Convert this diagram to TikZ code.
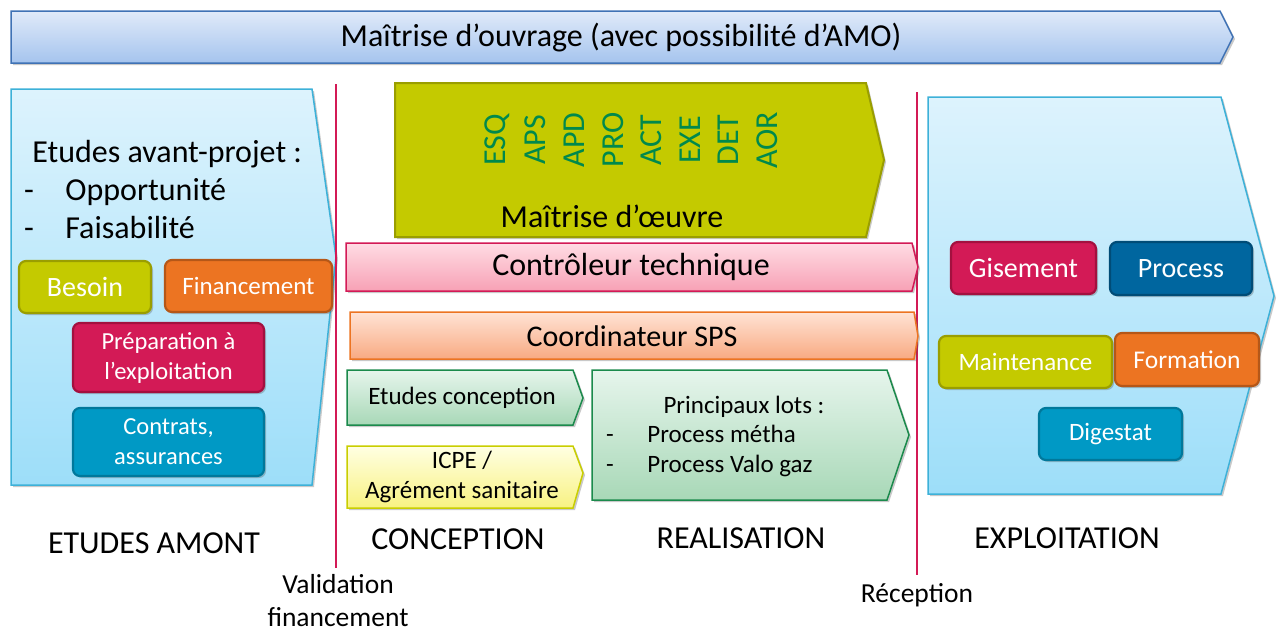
\documentclass[tikz,border=0pt]{standalone}
\usepackage{fontspec}
\setmainfont{Carlito}
\usetikzlibrary{shadows}
\definecolor{moabord}{HTML}{3F72B5}
\definecolor{moahaut}{HTML}{E0EAF9}
\definecolor{moabas}{HTML}{A5C4EE}
\definecolor{cyanbord}{HTML}{3DB1D8}
\definecolor{cyanhaut}{HTML}{DDF3FD}
\definecolor{cyanbas}{HTML}{9DDEF9}
\definecolor{vertolive}{HTML}{C4CA00}
\definecolor{vertolivefonce}{HTML}{9A9E00}
\definecolor{orangeb}{HTML}{EC7422}
\definecolor{orangefonce}{HTML}{B55718}
\definecolor{framboise}{HTML}{D31A56}
\definecolor{framboisefonce}{HTML}{A3103F}
\definecolor{bleucyan}{HTML}{0099C5}
\definecolor{bleucyanfonce}{HTML}{00789B}
\definecolor{bleunuit}{HTML}{00669F}
\definecolor{bleunuitfonce}{HTML}{004C77}
\definecolor{vertcode}{HTML}{00894C}
\definecolor{roseh}{HTML}{FFDCE4}
\definecolor{roseb}{HTML}{F7A1B5}
\definecolor{pecheh}{HTML}{FFE3D5}
\definecolor{pecheb}{HTML}{F8AA82}
\definecolor{vertbord}{HTML}{1B8A4C}
\definecolor{verth}{HTML}{E6F5EC}
\definecolor{vertb}{HTML}{A8D8B7}
\definecolor{jauneh}{HTML}{FFFFE2}
\definecolor{jauneb}{HTML}{F8F282}
\definecolor{jaunebord}{HTML}{C9CE00}
\tikzset{every picture/.style={line width=0.75pt}}

\begin{document}
\begin{tikzpicture}[x=1pt, y=-1pt, every node/.style={inner sep=0pt},
    ombre/.style={drop shadow={shadow xshift=2pt, shadow yshift=-2pt, opacity=0.3, fill=black!70}},
    fleche/.style={ombre, line width=1.5pt},
    boite/.style={ombre, rounded corners=7pt, line width=2.2pt, text=white, align=center},
    grand/.style={font=\fontsize{32}{36}\selectfont},
    moyen/.style={font=\fontsize{25}{30}\selectfont, align=center},
    phase/.style={font=\fontsize{32}{36}\selectfont},
    jalon/.style={font=\fontsize{27.5}{33}\selectfont}]
  \useasboundingbox (0,0) rectangle (1277,633);
  % maîtrise d'ouvrage
  \draw[fleche, draw=moabord, top color=moahaut, bottom color=moabas]
    (11,11) -- (1220,11) -- (1233,37) -- (1220,63) -- (11,63) -- cycle;
  \node[grand] (moa) at (621,38) {Maîtrise d’ouvrage (avec possibilité d’AMO)};

  % études amont
  \draw[fleche, draw=cyanbord, top color=cyanhaut, bottom color=cyanbas]
    (11,89) -- (312,89) -- (336,257) -- (312,485) -- (11,485) -- cycle;
  \node[grand, anchor=base west] (avp) at (32,162) {Etudes avant-projet :};
  \node[grand, anchor=base] (tiret1) at (29,200) {-};
  \node[grand, anchor=base west] (oppo) at (65,200) {Opportunité};
  \node[grand, anchor=base] (tiret2) at (29,238) {-};
  \node[grand, anchor=base west] (faisa) at (65,238) {Faisabilité};
  \node[boite, fill=vertolive, draw=vertolivefonce, minimum width=132pt, minimum height=52pt,
    font=\fontsize{28}{30}\selectfont] (besoin) at (85,287) {Besoin};
  \node[boite, fill=orangeb, draw=orangefonce, minimum width=167pt, minimum height=52pt,
    font=\fontsize{25}{30}\selectfont] (finan) at (248.5,286) {Financement};
  \node[boite, fill=framboise, draw=framboisefonce, minimum width=191pt, minimum height=69pt,
    font=\fontsize{24.5}{30}\selectfont] (prepa) at (168.5,357.5) {Préparation à\\l’exploitation};
  \node[boite, fill=bleucyan, draw=bleucyanfonce, minimum width=191pt, minimum height=68pt,
    font=\fontsize{24.5}{30}\selectfont] (contrats) at (168.5,442) {Contrats,\\assurances};

  % jalons
  \draw[framboise, line width=2.5pt] (336,84) -- (336,568);
  \draw[framboise, line width=2.5pt] (917,92) -- (917,575);

  % maîtrise d'oeuvre
  \draw[fleche, draw=vertolivefonce, fill=vertolive, line width=2pt]
    (395,83) -- (866,83) -- (884,160) -- (866,237) -- (395,237) -- cycle;
  \foreach \code [count=\i] in {ESQ,APS,APD,PRO,ACT,EXE,DET,AOR}
    \node[grand, text=vertcode, rotate=90] (code\i) at ({458.5+38.6*\i},140) {\code};
  \node[grand, anchor=base] (moe) at (612,227) {Maîtrise d’œuvre};

  % contrôle et coordination
  \draw[fleche, draw=framboise, top color=roseh, bottom color=roseb]
    (346,243) -- (912,243) -- (918,267) -- (912,291) -- (346,291) -- cycle;
  \node[grand] (ct) at (631,267) {Contrôleur technique};
  \draw[fleche, draw=orangeb, top color=pecheh, bottom color=pecheb]
    (350,312) -- (914,312) -- (918,336) -- (914,359) -- (350,359) -- cycle;
  \node[font=\fontsize{30}{34}\selectfont] (sps) at (632,336) {Coordinateur SPS};

  % conception
  \draw[fleche, draw=vertbord, top color=verth, bottom color=vertb]
    (347,370) -- (573,370) -- (583,398) -- (573,425) -- (347,425) -- cycle;
  \node[moyen] (etconc) at (462,398) {Etudes conception};
  \draw[fleche, draw=jaunebord, top color=jauneh, bottom color=jauneb]
    (347,446) -- (573,446) -- (583,473) -- (573,508) -- (347,508) -- cycle;
  \node[moyen] (icpe) at (462,477) {ICPE /\\Agrément sanitaire};

  % réalisation
  \draw[fleche, draw=vertbord, top color=verth, bottom color=vertb]
    (592,370) -- (887,370) -- (909,435) -- (887,500) -- (592,500) -- cycle;
  \node[moyen, anchor=base] (lots) at (744,413) {Principaux lots :};
  \node[moyen, anchor=base] (tiret3) at (610,442) {-};
  \node[moyen, anchor=base west] (metha) at (647,442) {Process métha};
  \node[moyen, anchor=base] (tiret4) at (610,472) {-};
  \node[moyen, anchor=base west] (valo) at (647,472) {Process Valo gaz};

  % exploitation
  \draw[fleche, draw=cyanbord, top color=cyanhaut, bottom color=cyanbas]
    (928,97) -- (1221,97) -- (1274,296) -- (1221,494) -- (928,494) -- cycle;
  \node[boite, fill=framboise, draw=framboisefonce, minimum width=145pt, minimum height=52pt,
    font=\fontsize{28}{30}\selectfont] (gise) at (1023.5,268) {Gisement};
  \node[boite, fill=bleunuit, draw=bleunuitfonce, minimum width=142pt, minimum height=53pt,
    font=\fontsize{28}{30}\selectfont] (process) at (1181,268.5) {Process};
  \node[boite, fill=vertolive, draw=vertolivefonce, minimum width=173pt, minimum height=52pt,
    font=\fontsize{25}{30}\selectfont] (maint) at (1025.5,362) {Maintenance};
  \node[boite, fill=orangeb, draw=orangefonce, minimum width=144pt, minimum height=53pt,
    font=\fontsize{25.5}{30}\selectfont] (forma) at (1187,359.5) {Formation};
  \node[boite, fill=bleucyan, draw=bleucyanfonce, minimum width=143pt, minimum height=52pt,
    font=\fontsize{25}{30}\selectfont] (diges) at (1110.5,434) {Digestat};

  % phases
  \node[phase, anchor=base] (amont) at (154,553) {ETUDES AMONT};
  \node[phase, anchor=base] (conc) at (458,549) {CONCEPTION};
  \node[phase, anchor=base] (real) at (741,548) {REALISATION};
  \node[phase, anchor=base] (exploit) at (1067,548) {EXPLOITATION};
  \node[jalon, anchor=base, align=center] (valid) at (338,626) {Validation\\financement};
  \node[jalon, anchor=base] (recep) at (917,602) {Réception};
\end{tikzpicture}
\end{document}
